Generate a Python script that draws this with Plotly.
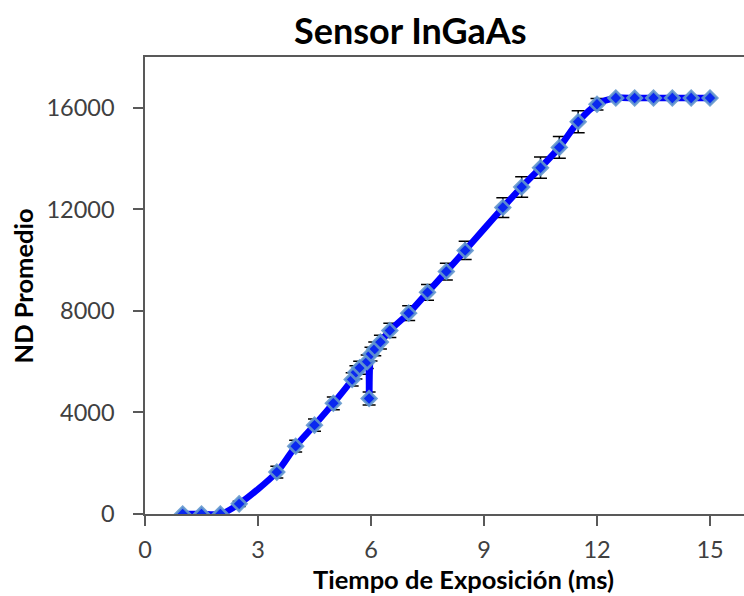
import plotly.graph_objects as go

# Exposure time (ms)
tiempo = [1, 1.5, 2, 2.5, 3.5, 4, 4.5, 5, 5.5, 5.6, 5.7, 5.9, 5.95, 6.0, 6.1, 6.25, 6.5,
          7, 7.5, 8, 8.5, 9.5, 10, 10.5, 11, 11.5, 12, 12.5, 13, 13.5, 14, 14.5, 15]
# Mean digital number
nd_promedio = [0, 0, 0, 400, 1650, 2670, 3500, 4360, 5300, 5580, 5760, 6000, 4550, 6300, 6500, 6770, 7230,
               7910, 8730, 9550, 10380, 12070, 12880, 13640, 14440, 15450, 16140, 16383, 16383, 16383, 16383, 16383, 16383]
# Error (std dev)
error_nd = [0, 0, 0, 100, 230, 230, 240, 250, 260, 260, 260, 265, 260, 270, 270, 275, 280,
            290, 310, 330, 360, 390, 400, 420, 430, 430, 230, 0, 0, 0, 0, 0, 0]

x_ticks = [0, 3, 6, 9, 12, 15]
y_ticks = [0, 4000, 8000, 12000, 16000]

FONT = "Lato"
W, H = 744, 596
L, R, T, B = 145, 0, 57, 82
pw = W - L - R
ph = H - T - B

fig = go.Figure()

# error bars (drawn first, behind line and markers)
fig.add_trace(go.Scatter(
    x=tiempo, y=nd_promedio, mode="markers",
    marker=dict(size=1, color="rgba(0,0,0,0)"),
    error_y=dict(type="data", array=error_nd, visible=True, color="#000000",
                 thickness=1.5, width=6.5),
    hoverinfo="skip", showlegend=False))

# smooth line
fig.add_trace(go.Scatter(
    x=tiempo, y=nd_promedio, mode="lines",
    line=dict(color="#0000ff", width=6.5, shape="spline", smoothing=0.8),
    showlegend=False))

# diamond markers
fig.add_trace(go.Scatter(
    x=tiempo, y=nd_promedio, mode="markers",
    marker=dict(symbol="diamond", size=11, color="#0a28f0",
                line=dict(color="rgba(100,152,205,0.9)", width=2.7)),
    showlegend=False))

x_per_unit = (710 - 145) / 15.0
xmax = pw / x_per_unit

fig.update_layout(
    width=W, height=H,
    margin=dict(l=L, r=R, t=T, b=B, pad=0),
    paper_bgcolor="white", plot_bgcolor="white",
    font=dict(family=FONT, size=20, color="#404040"),
    xaxis=dict(range=[0, xmax], tickvals=x_ticks, ticktext=[str(v) for v in x_ticks],
               showgrid=False, zeroline=False,
               showline=True, linecolor="#595959", linewidth=1.5, mirror=True,
               ticks="outside", ticklen=10, tickcolor="#595959", tickwidth=1.5,
               ticklabelstandoff=4,
               tickfont=dict(family=FONT, size=23.5, color="#404040")),
    yaxis=dict(range=[0, 18000], tickvals=y_ticks, ticktext=[str(v) for v in y_ticks],
               showgrid=False, zeroline=False,
               showline=True, linecolor="#595959", linewidth=1.5,
               ticks="outside", ticklen=10, tickcolor="#595959", tickwidth=1.5,
               ticklabelstandoff=14,
               tickfont=dict(family=FONT, size=23.5, color="#404040")),
    annotations=[
        dict(text="<b>Sensor InGaAs</b>", xref="paper", yref="paper",
             x=(410 - L) / pw, y=1 + (T - 30) / ph, xanchor="center", yanchor="middle",
             showarrow=False, font=dict(family=FONT, size=36, color="#000000")),
        dict(text="<b>Tiempo de Exposición (ms)</b>", xref="paper", yref="paper",
             x=(463.5 - L) / pw, y=-(579 - (T + ph)) / ph, xanchor="center", yanchor="middle",
             showarrow=False, font=dict(family=FONT, size=25.5, color="#000000")),
        dict(text="<b>ND Promedio</b>", xref="paper", yref="paper", textangle=-90,
             x=(22 - L) / pw, y=0.5, xanchor="center", yanchor="middle",
             showarrow=False, font=dict(family=FONT, size=25.5, color="#000000")),
    ],
)

fig.write_html("out.html", config={"displayModeBar": False},
               post_script="document.body.style.margin='0px';document.body.style.overflow='hidden';")
